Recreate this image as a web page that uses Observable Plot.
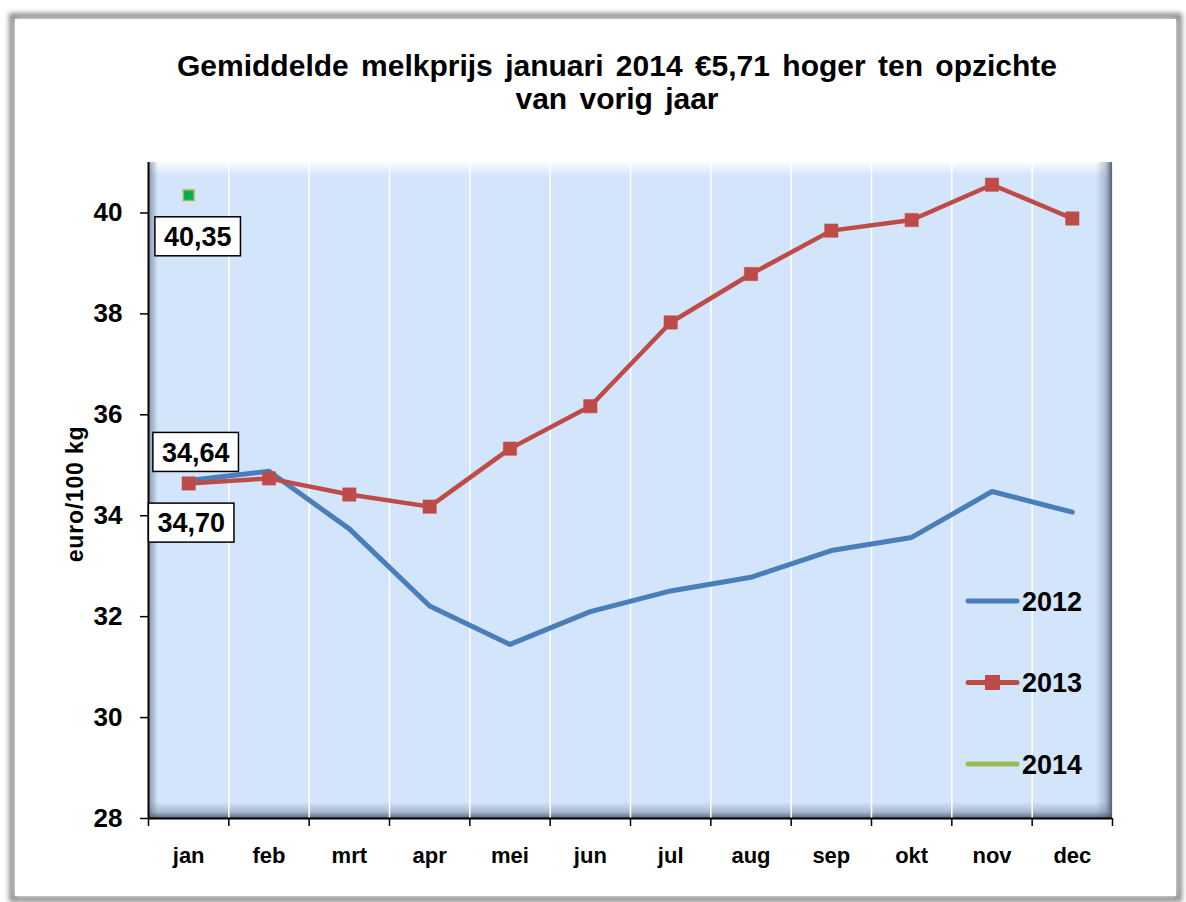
<!DOCTYPE html>
<html>
<head>
<meta charset="utf-8">
<script src="https://cdn.jsdelivr.net/npm/d3@7"></script>
<script src="https://cdn.jsdelivr.net/npm/@observablehq/plot@0.6"></script>
<style>
  html, body { margin: 0; padding: 0; background: #ffffff; }
  svg { display: block; }
</style>
</head>
<body>
<div id="chart"></div>
<script>
// ---- data ----
const months = ["jan","feb","mrt","apr","mei","jun","jul","aug","sep","okt","nov","dec"];
const values2012 = [34.70, 34.88, 33.74, 32.21, 31.45, 32.10, 32.51, 32.78, 33.31, 33.57, 34.48, 34.07];
const values2013 = [34.64, 34.74, 34.42, 34.18, 35.33, 36.17, 37.83, 38.79, 39.65, 39.86, 40.56, 39.89];
const values2014 = [40.35];
const yTicks = [28, 30, 32, 34, 36, 38, 40];
const seriesNames = ["2012", "2013", "2014"];
const titleLines = ["Gemiddelde melkprijs januari 2014 \u20AC5,71 hoger ten opzichte", "van vorig jaar"];
const yLabel = "euro/100 kg";

const colors = {"2012": "#4a7ebb", "2013": "#be4b48", "2014": "#9bbb59"};

const rows = [];
values2012.forEach((v, i) => rows.push({series: "2012", i, month: months[i], value: v}));
values2013.forEach((v, i) => rows.push({series: "2013", i, month: months[i], value: v}));
values2014.forEach((v, i) => rows.push({series: "2014", i, month: months[i], value: v}));
const d2012 = rows.filter(d => d.series === "2012");
const d2013 = rows.filter(d => d.series === "2013");
const d2014 = rows.filter(d => d.series === "2014");

const idx = months.map((m, i) => i);
const boundaries = d3.range(-0.5, months.length, 1);
const innerBoundaries = boundaries.slice(1, -1);

const font = "'Liberation Sans', Arial, Helvetica, sans-serif";

const plot = Plot.plot({
  width: 1186,
  height: 902,
  marginLeft: 148,
  marginRight: 74,
  marginTop: 162,
  marginBottom: 84,
  style: {fontFamily: font, background: "transparent", overflow: "visible"},
  x: {type: "linear", domain: [-0.5, months.length - 0.5]},
  y: {domain: [28, 41]},
  marks: [
    Plot.frame({fill: "#d3e5fb", stroke: null}),
    Plot.ruleX(innerBoundaries, {stroke: "#ffffff", strokeWidth: 1.5}),
    // axes
    Plot.axisY({ticks: yTicks, tickSize: 8, tickPadding: 18, fontSize: 26, fontWeight: "bold", label: null, stroke: "#000", strokeWidth: 1.5, fill: "#000"}),
    Plot.axisX({ticks: boundaries, tickFormat: () => "", tickSize: 8, label: null, stroke: "#000", strokeWidth: 1.5}),
    Plot.axisX({ticks: idx, tickFormat: i => months[i], tickSize: 0, tickPadding: 29, fontSize: 22, fontWeight: "bold", label: null, fill: "#000"}),
    // series
    Plot.line(d2012, {x: "i", y: "value", stroke: colors["2012"], strokeWidth: 5, strokeLinejoin: "round", strokeLinecap: "round"}),
    Plot.line(d2013, {x: "i", y: "value", stroke: colors["2013"], strokeWidth: 4.5, strokeLinejoin: "round"}),
    Plot.dot(d2013, {x: "i", y: "value", symbol: "square", r: 7.5, fill: colors["2013"], stroke: "#c0504d", strokeOpacity: 0.6, strokeWidth: 1}),
    Plot.dot(d2014, {x: "i", y: "value", symbol: "square", r: 6, fill: "#00b050", stroke: colors["2014"], strokeWidth: 1.5}),
    Plot.ruleX([-0.5], {stroke: "#000", strokeWidth: 2}),
    Plot.ruleY([28], {stroke: "#000", strokeWidth: 2})
  ]
});

document.getElementById("chart").appendChild(plot);

const svg = d3.select(plot);
const xs = plot.scale("x"), ys = plot.scale("y");
const X0 = 148, X1 = 1112, Y0 = 162, Y1 = 818;

// ---- defs: gradients & blur ----
const defs = svg.insert("defs", ":first-child");
const blur = defs.append("filter").attr("id", "blur").attr("x", "-5%").attr("y", "-5%").attr("width", "110%").attr("height", "110%");
blur.append("feGaussianBlur").attr("stdDeviation", 2.5);
function grad(id, x1, y1, x2, y2, stops) {
  const g = defs.append("linearGradient").attr("id", id).attr("x1", x1).attr("y1", y1).attr("x2", x2).attr("y2", y2);
  stops.forEach(s => g.append("stop").attr("offset", s[0]).attr("stop-color", s[1]).attr("stop-opacity", s[2]));
}
grad("gRight", 0, 0, 1, 0, [[0, "#5a6a80", 0], [0.6, "#5a6a80", 0.35], [1, "#3a4556", 0.85]]);
grad("gBottom", 0, 0, 0, 1, [[0, "#5a6a80", 0], [0.6, "#5a6a80", 0.35], [1, "#3a4556", 0.8]]);
grad("gTop", 0, 0, 0, 1, [[0, "#ffffff", 0.9], [1, "#ffffff", 0]]);
grad("gLeft", 0, 0, 1, 0, [[0, "#4a5a70", 0.6], [1, "#4a5a70", 0]]);

// ---- outer frame (behind everything) ----
const bg = svg.insert("g", "defs + *");
bg.append("rect").attr("x", 12).attr("y", 16).attr("width", 1167).attr("height", 883)
  .attr("fill", "none").attr("stroke", "#8c8c8c").attr("stroke-width", 6).attr("filter", "url(#blur)");
bg.append("rect").attr("x", 15).attr("y", 19).attr("width", 1161).attr("height", 877)
  .attr("fill", "#ffffff");

// ---- bevel shading on plot area (inserted just after the frame fill) ----
const frameNode = svg.select("[aria-label=frame]").node();
const bevel = d3.create("svg:g");
bevel.append("rect").attr("x", X0).attr("y", Y0).attr("width", X1 - X0).attr("height", 14).attr("fill", "url(#gTop)");
bevel.append("rect").attr("x", X0).attr("y", Y0).attr("width", 10).attr("height", Y1 - Y0).attr("fill", "url(#gLeft)");
bevel.append("rect").attr("x", X1 - 16).attr("y", Y0).attr("width", 16).attr("height", Y1 - Y0).attr("fill", "url(#gRight)");
bevel.append("rect").attr("x", X0).attr("y", Y1 - 16).attr("width", X1 - X0).attr("height", 16).attr("fill", "url(#gBottom)");
frameNode.parentNode.insertBefore(bevel.node(), frameNode.nextSibling);

// ---- title ----
const title = svg.append("text").attr("text-anchor", "middle")
  .attr("font-family", font).attr("font-weight", "bold").attr("font-size", 30)
  .attr("word-spacing", 4).attr("fill", "#000");
titleLines.forEach((t, k) => title.append("tspan").attr("x", 617).attr("y", 76 + k * 33).text(t));

// ---- y label ----
svg.append("text").attr("transform", `translate(83,494) rotate(-90)`)
  .attr("text-anchor", "middle").attr("font-family", font).attr("font-weight", "bold")
  .attr("font-size", 23).attr("letter-spacing", 0.8).attr("fill", "#000").text(yLabel);

// ---- data labels with boxes ----
function fmt(v) { return v.toFixed(2).replace(".", ","); }
function boxLabel(d, dx, dy) {
  const cx = xs.apply(d.i) + dx, cy = ys.apply(d.value) + dy;
  const g = svg.append("g");
  const r = g.append("rect").attr("fill", "#fff").attr("stroke", "#000").attr("stroke-width", 1.5);
  const t = g.append("text").attr("x", cx).attr("y", cy).attr("text-anchor", "middle").attr("dy", "0.36em")
    .attr("font-family", font).attr("font-weight", "bold").attr("font-size", 27).attr("fill", "#000").text(fmt(d.value));
  const w = t.node().getComputedTextLength();
  r.attr("x", cx - w / 2 - 9).attr("y", cy - 19.5).attr("width", w + 18).attr("height", 39);
}
boxLabel(d2014[0], 9.5, 41.5);
boxLabel(d2013[0], 7.5, -31);
boxLabel(d2012[0], 3, 42.7);

// ---- legend ----
const leg = svg.append("g");
seriesNames.forEach((s, k) => {
  const y = 601 + k * 81.5;
  leg.append("line").attr("x1", 968).attr("x2", 1017).attr("y1", y).attr("y2", y)
    .attr("stroke", colors[s]).attr("stroke-width", 5).attr("stroke-linecap", "round");
  if (s === "2013") {
    leg.append("rect").attr("x", 985).attr("y", y - 7.5).attr("width", 15).attr("height", 15).attr("fill", colors[s]);
  }
  leg.append("text").attr("x", 1022).attr("y", y).attr("dy", "0.36em").attr("text-anchor", "start")
    .attr("font-family", font).attr("font-weight", "bold").attr("font-size", 27).attr("fill", "#000").text(s);
});
</script>
</body>
</html>
